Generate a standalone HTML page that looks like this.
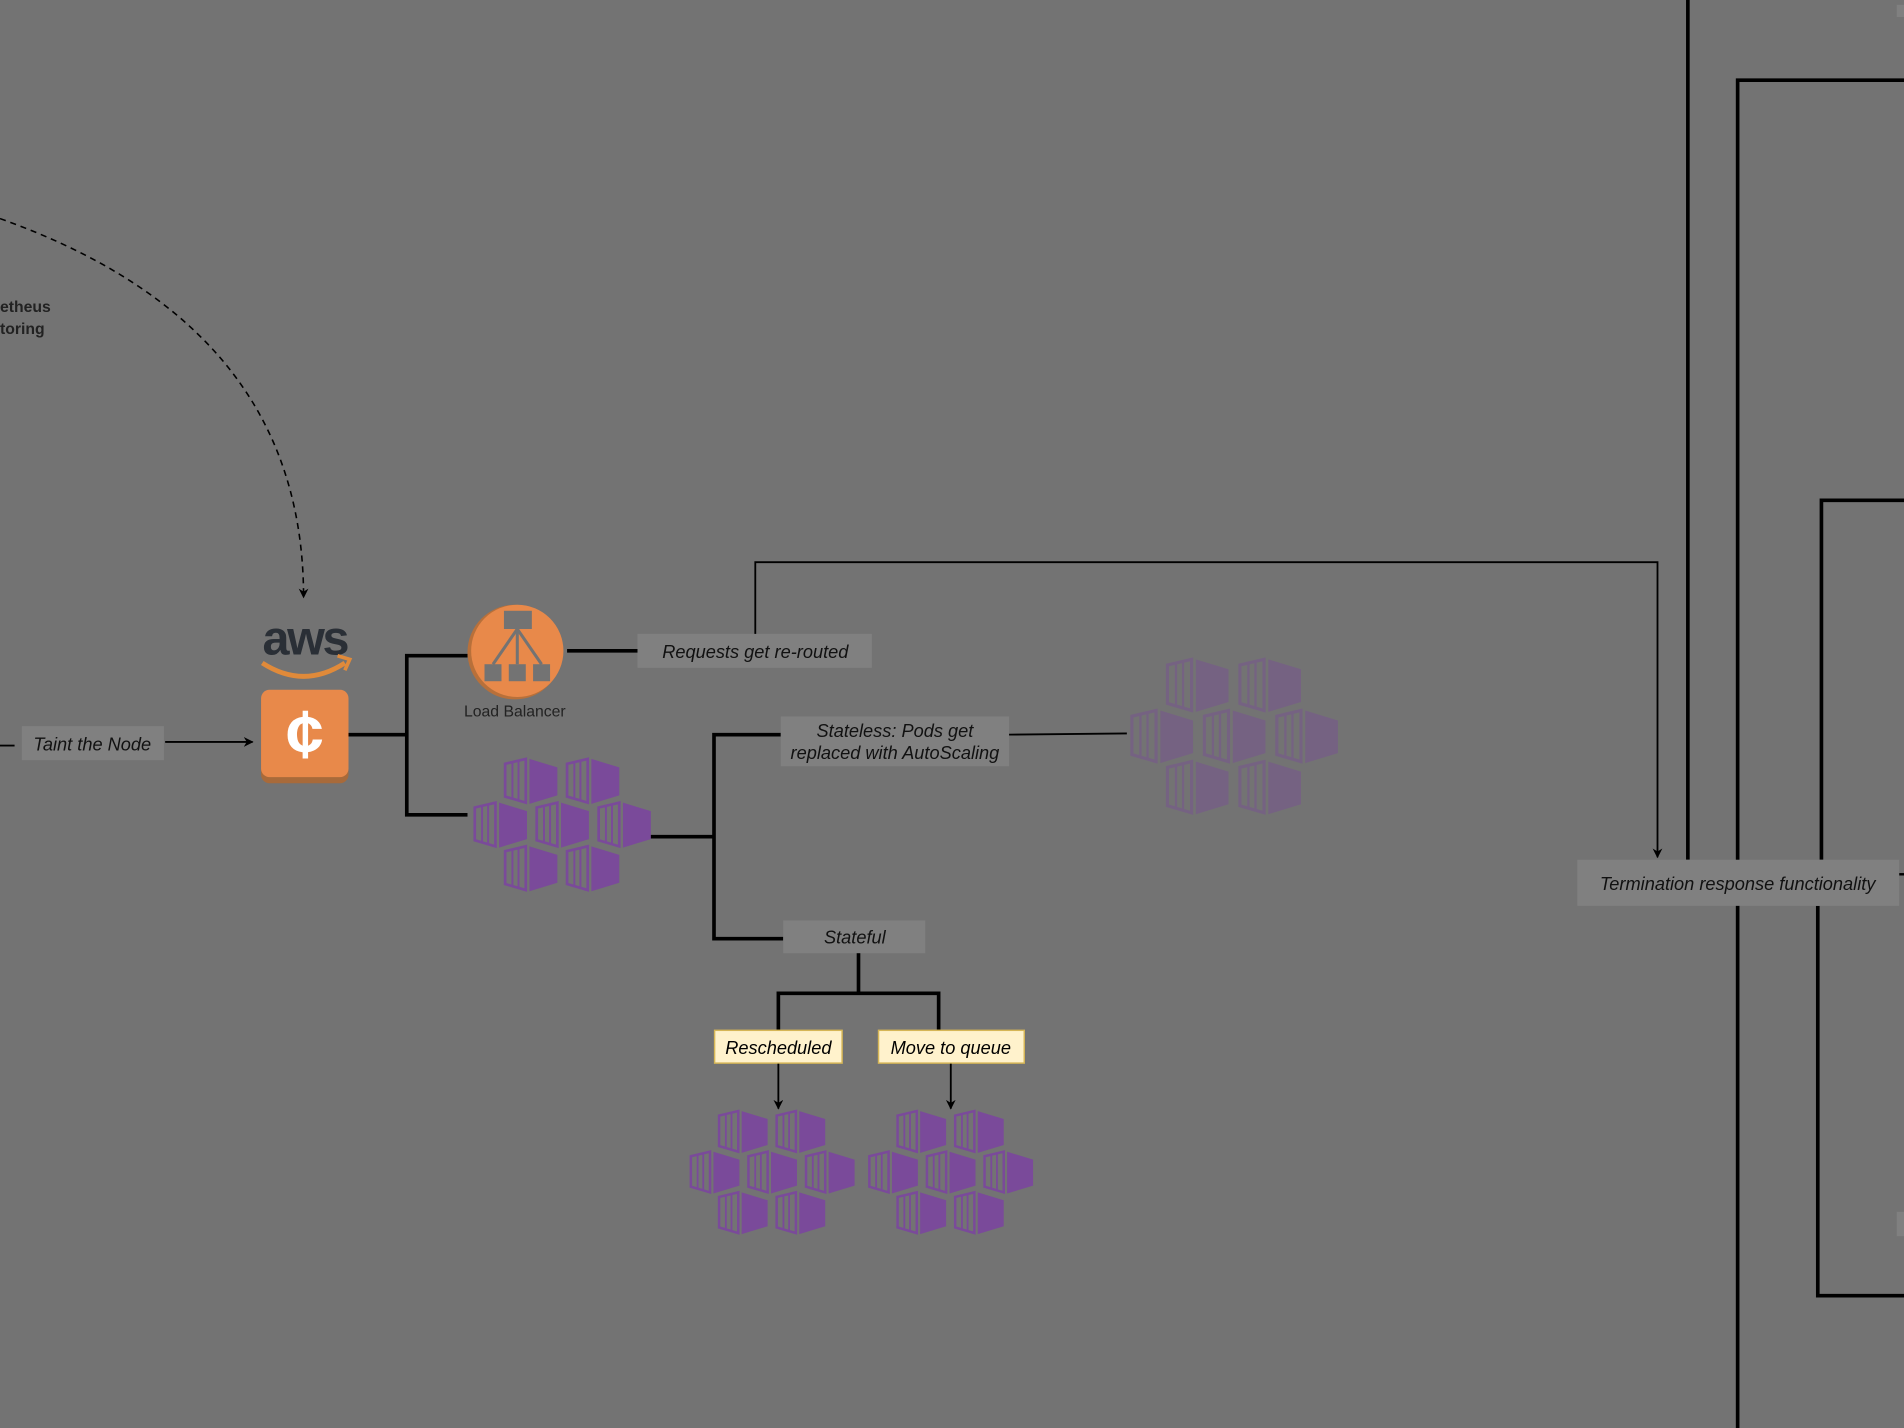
<!DOCTYPE html>
<html><head><meta charset="utf-8"><style>
html,body{margin:0;padding:0;background:#737373;}
svg{display:block;}
text{font-family:"Liberation Sans",sans-serif;}
</style></head><body>
<svg width="1904" height="1428" viewBox="0 0 1568 1176" xmlns="http://www.w3.org/2000/svg">
<defs>
<marker id="ar" viewBox="0 0 10 10" refX="9" refY="5" markerWidth="8" markerHeight="8" orient="auto" markerUnits="userSpaceOnUse">
<path d="M0,0 L10,5 L0,10 L3,5 z" fill="#000"/></marker>
<g id="cube">
<path d="M1,4 L18,0 L18,36 L1,31 Z" fill="none" stroke="#7a4a9a" stroke-width="2.2"/>
<line x1="7" y1="3" x2="7" y2="32" stroke="#7a4a9a" stroke-width="1.6"/>
<line x1="12" y1="2" x2="12" y2="34" stroke="#7a4a9a" stroke-width="1.6"/>
<path d="M21,0 L44,7 L44,30 L21,37 Z" fill="#7a4a9a"/>
</g>
<g id="pods">
<use href="#cube" x="25" y="0"/><use href="#cube" x="76" y="0"/>
<use href="#cube" x="0" y="36"/><use href="#cube" x="51" y="36"/><use href="#cube" x="102" y="36"/>
<use href="#cube" x="25" y="72"/><use href="#cube" x="76" y="72"/>
</g>
</defs>
<rect width="1568" height="1176" fill="#737373"/>

<!-- right side lines -->
<line x1="1390" y1="0" x2="1390" y2="708" stroke="#000" stroke-width="3"/>
<polyline points="1568,66 1431,66 1431,1176" fill="none" stroke="#000" stroke-width="3"/>
<polyline points="1568,412 1500,412 1500,708" fill="none" stroke="#000" stroke-width="3"/>
<polyline points="1497,746 1497,1067 1568,1067" fill="none" stroke="#000" stroke-width="3"/>
<line x1="1564" y1="720" x2="1568" y2="720" stroke="#000" stroke-width="2"/>
<rect x="1562" y="4" width="6" height="10" fill="#808080"/>
<rect x="1562" y="998" width="6" height="20" fill="#808080"/>

<!-- dashed curve -->
<path d="M0,180 C140,230 250,320 250,492" fill="none" stroke="#000" stroke-width="1.3" stroke-dasharray="5,4" marker-end="url(#ar)"/>
<text x="0" y="257" font-size="13" font-weight="bold" fill="#222">etheus</text>
<text x="0" y="275" font-size="13" font-weight="bold" fill="#222">toring</text>

<!-- taint -->
<line x1="0" y1="614" x2="12" y2="614" stroke="#000" stroke-width="1.5"/>
<rect x="18" y="598" width="117" height="28" fill="#808080"/>
<text x="76" y="618" font-size="15" font-style="italic" text-anchor="middle" fill="#111">Taint the Node</text>
<line x1="136" y1="611" x2="208" y2="611" stroke="#000" stroke-width="1.5" marker-end="url(#ar)"/>

<!-- aws -->
<text x="251" y="539" font-size="40" font-weight="bold" text-anchor="middle" fill="#2a2f36" letter-spacing="-2">aws</text>
<path d="M216,546 Q250,568 284,546" fill="none" stroke="#e08a3a" stroke-width="4"/>
<path d="M278,540 L288,543 L284,552" fill="none" stroke="#e08a3a" stroke-width="3"/>
<rect x="215" y="572" width="72" height="73" rx="7" fill="#a86a3a"/>
<rect x="215" y="568" width="72" height="72" rx="7" fill="#e8894a"/>
<text x="251" y="624" font-size="56" font-weight="bold" text-anchor="middle" fill="#fff">¢</text>

<!-- connectors -->
<polyline points="287,605 335,605" fill="none" stroke="#000" stroke-width="3"/>
<polyline points="385,540 335,540 335,671 385,671" fill="none" stroke="#000" stroke-width="3"/>

<!-- load balancer -->
<circle cx="424" cy="537" r="39" fill="#b8703a"/>
<circle cx="426" cy="536" r="38" fill="#e8894a"/>
<rect x="415" y="503" width="23" height="15" fill="#737373"/>
<g stroke="#737373" stroke-width="2.5" fill="none"><line x1="426" y1="518" x2="406" y2="547"/><line x1="426" y1="518" x2="426" y2="547"/><line x1="426" y1="518" x2="446" y2="547"/></g>
<rect x="399" y="547" width="14" height="14" fill="#737373"/><rect x="419" y="547" width="14" height="14" fill="#737373"/><rect x="439" y="547" width="14" height="14" fill="#737373"/>
<text x="424" y="590" font-size="13" text-anchor="middle" fill="#222">Load Balancer</text>

<line x1="467" y1="536" x2="525" y2="536" stroke="#000" stroke-width="3"/>
<rect x="525" y="522" width="193" height="28" fill="#808080"/>
<text x="622" y="542" font-size="15" font-style="italic" text-anchor="middle" fill="#111">Requests get re-routed</text>
<polyline points="622,522 622,463 1365,463 1365,706" fill="none" stroke="#000" stroke-width="1.5" marker-end="url(#ar)"/>

<!-- pods main -->
<use href="#pods" x="390" y="625"/>
<polyline points="536,689 588,689" fill="none" stroke="#000" stroke-width="3"/>
<polyline points="643,605 588,605 588,773 645,773" fill="none" stroke="#000" stroke-width="3"/>

<rect x="643" y="590" width="188" height="41" fill="#808080"/>
<text x="737" y="607" font-size="15" font-style="italic" text-anchor="middle" fill="#111">Stateless: Pods get</text>
<text x="737" y="625" font-size="15" font-style="italic" text-anchor="middle" fill="#111">replaced with AutoScaling</text>
<line x1="831" y1="605" x2="928" y2="604" stroke="#000" stroke-width="1.5"/>
<g opacity="0.4"><use href="#pods" transform="translate(931,543) scale(1.17)"/></g>

<rect x="645" y="758" width="117" height="27" fill="#808080"/>
<text x="704" y="777" font-size="15" font-style="italic" text-anchor="middle" fill="#111">Stateful</text>
<polyline points="707,785 707,818" fill="none" stroke="#000" stroke-width="3"/>
<polyline points="641,848 641,818 773,818 773,848" fill="none" stroke="#000" stroke-width="3"/>

<rect x="588.5" y="848.5" width="105" height="27" fill="#fff2cc" stroke="#d6b656" stroke-width="1.2"/>
<text x="641" y="868" font-size="15" font-style="italic" text-anchor="middle" fill="#000">Rescheduled</text>
<rect x="723.5" y="848.5" width="120" height="27" fill="#fff2cc" stroke="#d6b656" stroke-width="1.2"/>
<text x="783" y="868" font-size="15" font-style="italic" text-anchor="middle" fill="#000">Move to queue</text>
<line x1="641" y1="876" x2="641" y2="913" stroke="#000" stroke-width="1.5" marker-end="url(#ar)"/>
<line x1="783" y1="876" x2="783" y2="913" stroke="#000" stroke-width="1.5" marker-end="url(#ar)"/>
<use href="#pods" transform="translate(568,915) scale(0.93)"/>
<use href="#pods" transform="translate(715,915) scale(0.93)"/>

<!-- termination -->
<rect x="1299" y="708" width="265" height="38" fill="#808080"/>
<text x="1431" y="733" font-size="15" font-style="italic" text-anchor="middle" fill="#111">Termination response functionality</text>
</svg>
</body></html>
